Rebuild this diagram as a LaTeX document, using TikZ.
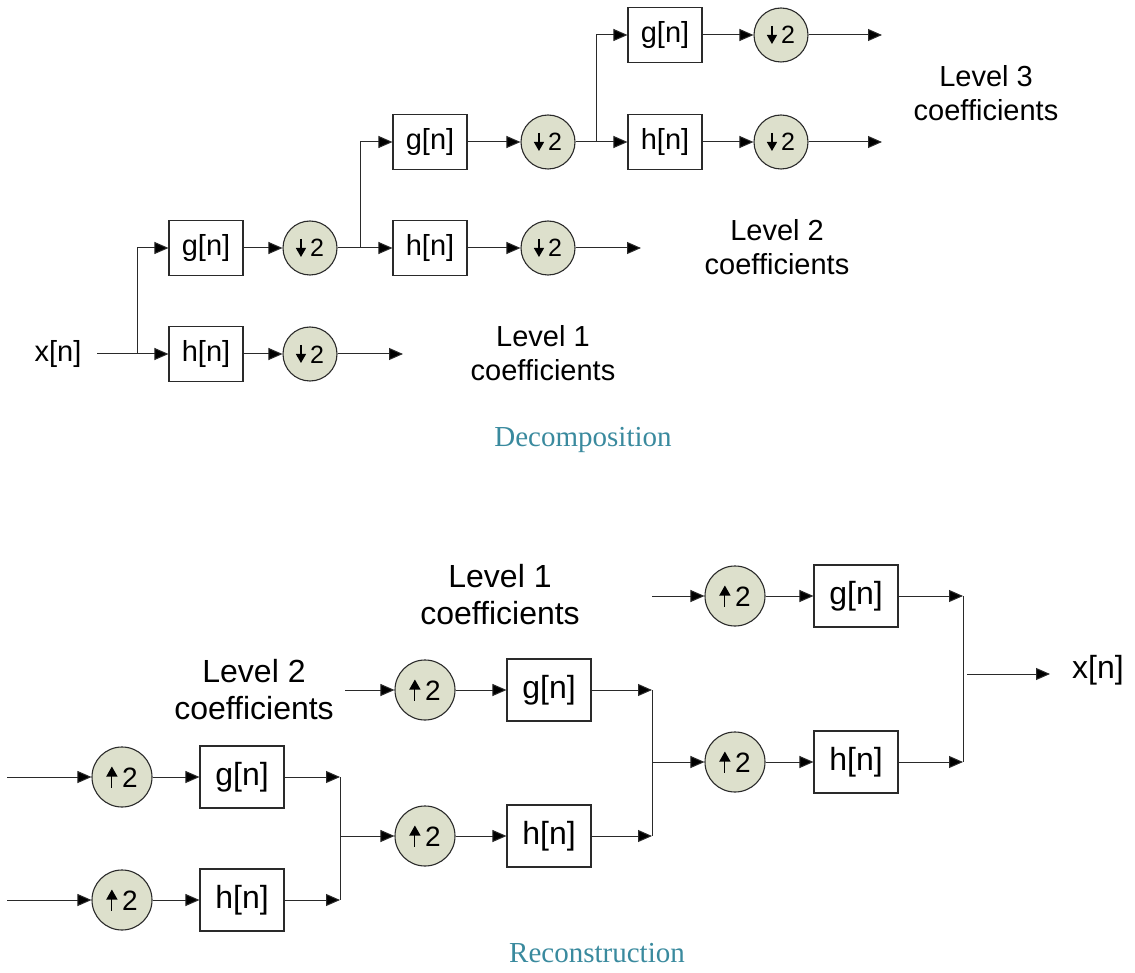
\documentclass[tikz,border=0pt]{standalone}
\usepackage{fontspec}
\setmainfont{Liberation Sans}
\newfontfamily\capfont{Liberation Serif}
\usetikzlibrary{arrows.meta}
\definecolor{circfill}{HTML}{DDE0CC}
\definecolor{capcol}{HTML}{3A8A9E}
\definecolor{linecol}{HTML}{2A2A2A}
\newcommand{\dnarr}[1]{\tikz[baseline=0pt,x=1pt,y=1pt]\draw[line width=1.2pt,-{Triangle[length=9pt,width=10pt]}] (0,#1)--(0,0);}
\newcommand{\uparr}[1]{\tikz[baseline=0pt,x=1pt,y=1pt]\draw[line width=1.2pt,-{Triangle[length=10pt,width=11pt]}] (0,0)--(0,#1);}
\begin{document}
\begin{tikzpicture}[x=1pt,y=-1pt,
  line width=1pt, draw=linecol,
  ar/.style={-{Triangle[length=14pt,width=12pt]}},
  blkS/.style={draw=linecol, line width=1.1pt, minimum width=74pt, minimum height=55pt, inner sep=0pt, fill=white, font=\fontsize{29}{32}\selectfont},
  blkL/.style={draw=linecol, line width=1.1pt, minimum width=84pt, minimum height=62pt, inner sep=0pt, fill=white, font=\fontsize{32}{36}\selectfont},
  dnS/.style={circle, draw=linecol, line width=1.1pt, fill=circfill, minimum size=54pt, inner sep=0pt, font=\fontsize{25}{28}\selectfont},
  upL/.style={circle, draw=linecol, line width=1.1pt, fill=circfill, minimum size=60pt, inner sep=0pt, font=\fontsize{28}{31}\selectfont},
  lblS/.style={align=center, font=\fontsize{29}{34}\selectfont},
  lblL/.style={align=center, font=\fontsize{32}{37}\selectfont},
  captxt/.style={text=capcol, font=\capfont\fontsize{29}{32}\selectfont}
]
\useasboundingbox (0,0) rectangle (1135,973);

% ---------------- Decomposition ----------------
\node[font=\fontsize{29}{32}\selectfont] (xin) at (58,354) {x[n]};
\coordinate (xs) at (97,354);
\coordinate (sp0) at (137,354);
\node[blkS] (g1) at (206,248) {g[n]};
\node[blkS] (h1) at (206,354) {h[n]};
\node[dnS] (d1g) at (310,248) {\dnarr{18}\,2};
\node[dnS] (d1h) at (310,354) {\dnarr{18}\,2};
\coordinate (o1) at (403,354);
\draw[ar] (xs) -- (h1);
\draw[ar] (sp0) |- (g1);
\draw[ar] (g1) -- (d1g);
\draw[ar] (h1) -- (d1h);
\draw[ar] (d1h) -- (o1);

\coordinate (sp1) at (360,248);
\node[blkS] (g2) at (430,142) {g[n]};
\node[blkS] (h2) at (430,248) {h[n]};
\node[dnS] (d2g) at (548,142) {\dnarr{18}\,2};
\node[dnS] (d2h) at (548,248) {\dnarr{18}\,2};
\coordinate (o2) at (641,248);
\draw (d1g) -- (sp1);
\draw[ar] (sp1) |- (g2);
\draw[ar] (sp1) -- (h2);
\draw[ar] (g2) -- (d2g);
\draw[ar] (h2) -- (d2h);
\draw[ar] (d2h) -- (o2);

\coordinate (sp2) at (596,142);
\node[blkS] (g3) at (665,35) {g[n]};
\node[blkS] (h3) at (665,142) {h[n]};
\node[dnS] (d3g) at (781,35) {\dnarr{18}\,2};
\node[dnS] (d3h) at (781,142) {\dnarr{18}\,2};
\coordinate (o3a) at (882,35);
\coordinate (o3b) at (882,142);
\draw (d2g) -- (sp2);
\draw[ar] (sp2) |- (g3);
\draw[ar] (sp2) -- (h3);
\draw[ar] (g3) -- (d3g);
\draw[ar] (h3) -- (d3h);
\draw[ar] (d3g) -- (o3a);
\draw[ar] (d3h) -- (o3b);

\node[lblS] (L3) at (986,93) {Level 3\\coefficients};
\node[lblS] (L2) at (777,247) {Level 2\\coefficients};
\node[lblS] (L1) at (543,353) {Level 1\\coefficients};
\node[captxt] (dec) at (583,440) {Decomposition};

% ---------------- Reconstruction ----------------
\coordinate (ia) at (7,777);
\coordinate (ib) at (7,900);
\node[upL] (uA) at (122,777) {\uparr{21}\,2};
\node[upL] (uB) at (122,900) {\uparr{21}\,2};
\node[blkL] (gA) at (242,777) {g[n]};
\node[blkL] (hB) at (242,900) {h[n]};
\coordinate (mA) at (340,777);
\coordinate (mB) at (340,900);
\coordinate (mC) at (340,836);
\draw[ar] (ia) -- (uA);
\draw[ar] (ib) -- (uB);
\draw[ar] (uA) -- (gA);
\draw[ar] (uB) -- (hB);
\draw[ar] (gA) -- (mA);
\draw[ar] (hB) -- (mB);
\draw (mA) -- (mB);

\coordinate (iD) at (345,690);
\node[upL] (uD) at (425,690) {\uparr{21}\,2};
\node[upL] (uC) at (425,836) {\uparr{21}\,2};
\node[blkL] (gD) at (549,690) {g[n]};
\node[blkL] (hC) at (549,836) {h[n]};
\coordinate (nD) at (652,690);
\coordinate (nC) at (652,836);
\coordinate (nE) at (652,762);
\draw[ar] (iD) -- (uD);
\draw[ar] (mC) -- (uC);
\draw[ar] (uD) -- (gD);
\draw[ar] (uC) -- (hC);
\draw[ar] (gD) -- (nD);
\draw[ar] (hC) -- (nC);
\draw (nD) -- (nC);

\coordinate (iF) at (652,596);
\node[upL] (uF) at (735,596) {\uparr{21}\,2};
\node[upL] (uE) at (735,762) {\uparr{21}\,2};
\node[blkL] (gF) at (856,596) {g[n]};
\node[blkL] (hE) at (856,762) {h[n]};
\coordinate (pF) at (963,596);
\coordinate (pE) at (963,762);
\coordinate (pO) at (967,674);
\coordinate (pX) at (1050,674);
\draw[ar] (iF) -- (uF);
\draw[ar] (nE) -- (uE);
\draw[ar] (uF) -- (gF);
\draw[ar] (uE) -- (hE);
\draw[ar] (gF) -- (pF);
\draw[ar] (hE) -- (pE);
\draw (pF) -- (pE);
\draw[ar] (pO) -- (pX);
\node[font=\fontsize{32}{36}\selectfont] (xout) at (1098,670) {x[n]};

\node[lblL] (M1) at (500,595) {Level 1\\coefficients};
\node[lblL] (M2) at (254,690) {Level 2\\coefficients};
\node[captxt] (rec) at (597,953) {Reconstruction};
\end{tikzpicture}
\end{document}
